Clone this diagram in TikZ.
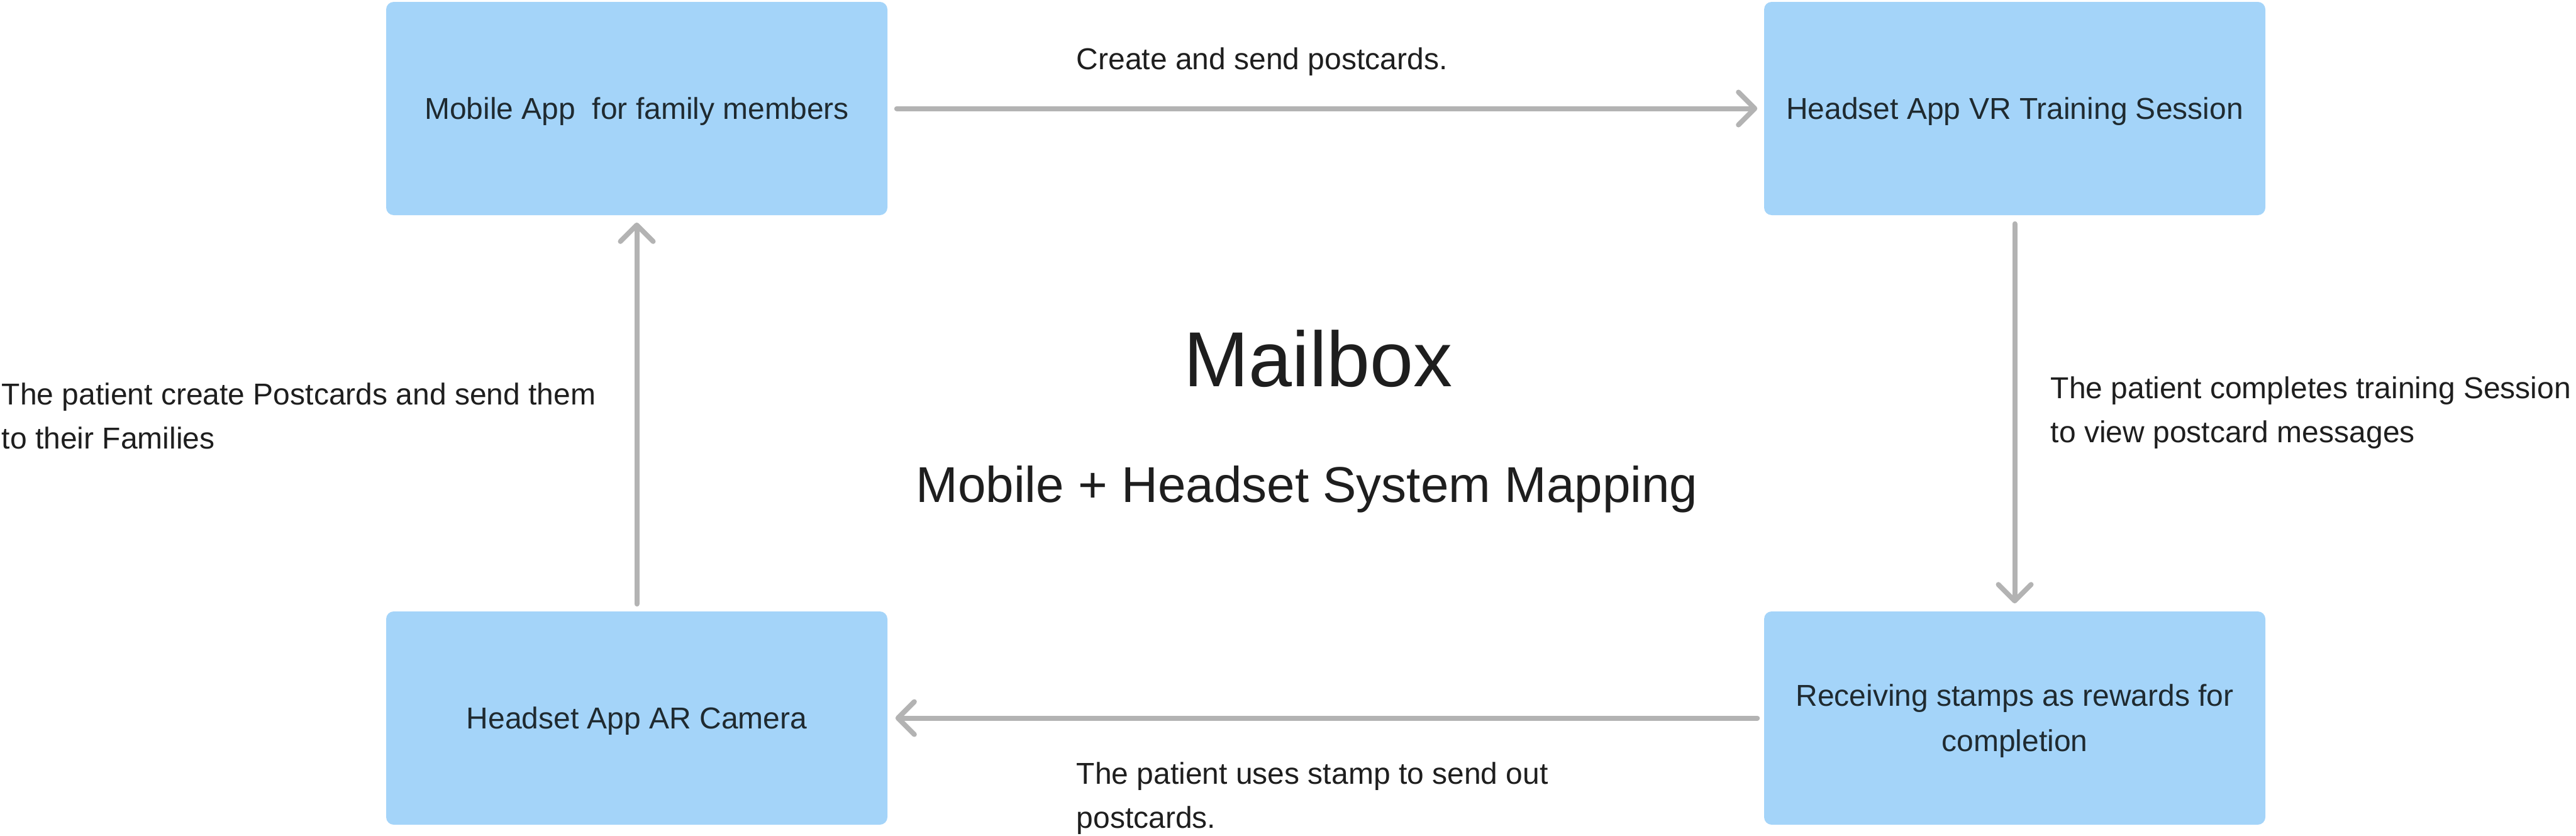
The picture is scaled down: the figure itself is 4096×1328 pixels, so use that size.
\documentclass[tikz,border=0pt]{standalone}
\usepackage{fontspec}
\setmainfont{Liberation Sans}
\usetikzlibrary{arrows.meta}
\definecolor{boxblue}{HTML}{A4D4F9}
\definecolor{arrowgray}{HTML}{B3B3B3}
\definecolor{boxtext}{HTML}{1F2A30}
\definecolor{labeltext}{HTML}{1E1E1E}
\begin{document}
\begin{tikzpicture}[x=0.25pt,y=-0.25pt,
  stepbox/.style={rectangle, rounded corners=3pt, fill=boxblue,
    minimum width=199.25pt, minimum height=84.75pt, inner sep=0pt,
    text=boxtext, font=\fontsize{12}{18}\selectfont, align=center,
    text depth=0pt},
  flow/.style={draw=arrowgray, line width=2pt, line cap=round,
    -{Straight Barb[length=6.5pt,width=13pt,round]}},
  lbl/.style={text=labeltext, font=\fontsize{12}{17.5}\selectfont,
    align=left, inner sep=0pt, anchor=base west},
  ttl/.style={text=labeltext, inner sep=0pt, anchor=base}]
\useasboundingbox (0,0) rectangle (4096,1328);
\fill[white] (0,0) rectangle (4096,1328);

\node[stepbox] (mobile) at (1012.5,172.5) {Mobile App\ \ for family members};
\node[stepbox] (vr) at (3203.5,172.5) {Headset App VR Training Session};
\node[stepbox] (ar) at (1012.5,1141.5) {Headset App AR Camera};
\node[stepbox] (stamps) at (3203.5,1141.5) {Receiving stamps as rewards for\\completion};

\draw[flow, shorten <=3.5pt, shorten >=2.5pt] (mobile.east) -- (vr.west);
\draw[flow, shorten <=3.25pt, shorten >=3pt] (vr.south) -- (stamps.north);
\draw[flow, shorten <=2.5pt, shorten >=3pt] (stamps.west) -- (ar.east);
\draw[flow, shorten <=2.75pt, shorten >=2.75pt] (ar.north) -- (mobile.south);

% multi-line labels: anchor is the baseline of the last line
\node[lbl] (l1) at (1711,110) {Create and send postcards.};
\node[lbl] (l2) at (3260,703) {The patient completes training Session\\to view postcard messages};
\node[lbl] (l3) at (1711,1316) {The patient uses stamp to send out\\postcards.};
\node[lbl] (l4) at (2,713) {The patient create Postcards and send them\\to their Families};

\node[ttl, font=\fontsize{31}{31}\selectfont] (title) at (2096,614) {Mailbox};
\node[ttl, font=\fontsize{20}{20}\selectfont] (sub) at (2078,798) {Mobile + Headset System Mapping};
\end{tikzpicture}
\end{document}
